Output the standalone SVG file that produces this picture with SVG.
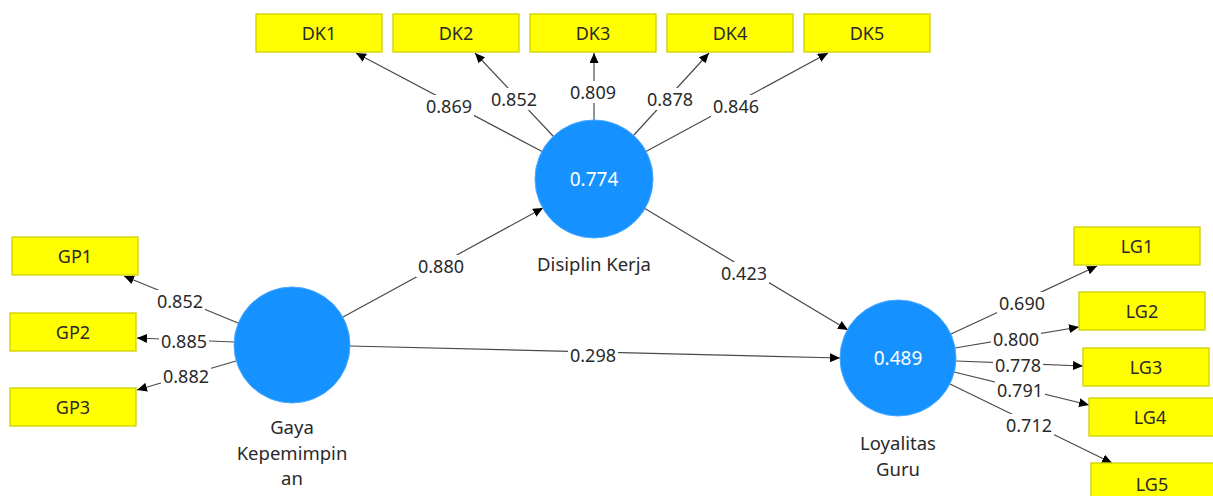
<svg xmlns="http://www.w3.org/2000/svg" width="1213" height="496" viewBox="0 0 1213 496">
<style>
.ind rect{fill:#FFFF00;stroke:#CFCF00;stroke-width:1.3}
.ind text,.name{font-family:"Noto Sans","Open Sans",sans-serif;fill:#2a2a2a;text-anchor:middle;dominant-baseline:central}
.ind text{font-size:18px}
.name{font-size:18.5px}
.lv circle{fill:#1592FF;stroke:#4aa8ff;stroke-width:1}
.lv text.val{font-family:"Noto Sans","Open Sans",sans-serif;font-size:19px;fill:#ffffff;text-anchor:middle;dominant-baseline:central}
.conn line{stroke:#4a4a4a;stroke-width:1.2;marker-end:url(#ah)}
.lbl rect{fill:#ffffff}
.lbl text{font-family:"Noto Sans","Open Sans",sans-serif;font-size:18px;fill:#2a2a2a;text-anchor:middle;dominant-baseline:central}
</style>
<defs>
<marker id="ah" markerUnits="userSpaceOnUse" markerWidth="11" markerHeight="9" refX="10" refY="4.5" orient="auto">
<path d="M0,0 L10,4.5 L0,9 z" fill="#000"/>
</marker>
</defs>
<rect width="1213" height="496" fill="#ffffff"/>

<g id="connectors" class="conn">
<line x1="343" y1="317" x2="543" y2="208"/>
<line x1="644" y1="208" x2="848" y2="330"/>
<line x1="350" y1="346" x2="840" y2="358"/>
<line x1="238" y1="323" x2="124" y2="276"/>
<line x1="234" y1="342" x2="137" y2="338"/>
<line x1="236" y1="361" x2="137" y2="390"/>
<line x1="951" y1="334" x2="1097" y2="266"/>
<line x1="955" y1="348" x2="1079" y2="327"/>
<line x1="956" y1="361" x2="1083" y2="366"/>
<line x1="954" y1="372" x2="1089" y2="405"/>
<line x1="950" y1="384" x2="1112" y2="463"/>
<line x1="543" y1="152" x2="356" y2="53"/>
<line x1="554" y1="137" x2="475" y2="53"/>
<line x1="594" y1="121" x2="594" y2="53"/>
<line x1="633" y1="136" x2="709" y2="53"/>
<line x1="645" y1="152" x2="828" y2="53"/>
</g>

<g id="labels" class="lbl">
<rect x="416" y="255" width="50" height="22"/><text x="441" y="266">0.880</text>
<rect x="719" y="262" width="50" height="22"/><text x="744" y="273">0.423</text>
<rect x="568" y="344" width="50" height="22"/><text x="593" y="355">0.298</text>
<rect x="155" y="290" width="50" height="22"/><text x="180" y="301">0.852</text>
<rect x="159" y="330" width="50" height="22"/><text x="184" y="341">0.885</text>
<rect x="161" y="365" width="50" height="22"/><text x="186" y="376">0.882</text>
<rect x="997" y="292" width="50" height="22"/><text x="1022" y="303">0.690</text>
<rect x="991" y="328" width="50" height="22"/><text x="1016" y="339">0.800</text>
<rect x="993" y="354" width="50" height="22"/><text x="1018" y="365">0.778</text>
<rect x="995" y="379" width="50" height="22"/><text x="1020" y="390">0.791</text>
<rect x="1004" y="414" width="50" height="22"/><text x="1029" y="425">0.712</text>
<rect x="424" y="95" width="50" height="22"/><text x="449" y="106">0.869</text>
<rect x="489" y="88" width="50" height="22"/><text x="514" y="99">0.852</text>
<rect x="568" y="81" width="50" height="22"/><text x="593" y="92">0.809</text>
<rect x="645" y="88" width="50" height="22"/><text x="670" y="99">0.878</text>
<rect x="711" y="95" width="50" height="22"/><text x="736" y="106">0.846</text>
</g>

<g id="GK" class="lv">
<circle cx="292" cy="345" r="58"/>
<text class="name" x="292" y="426">Gaya</text>
<text class="name" x="292" y="452">Kepemimpin</text>
<text class="name" x="292" y="477">an</text>
</g>
<g id="DK" class="lv">
<circle cx="594" cy="179" r="59"/>
<text class="val" x="594" y="179">0.774</text>
<text class="name" x="594" y="263">Disiplin Kerja</text>
</g>
<g id="LG" class="lv">
<circle cx="898" cy="358" r="58"/>
<text class="val" x="898" y="358">0.489</text>
<text class="name" x="898" y="442">Loyalitas</text>
<text class="name" x="898" y="468">Guru</text>
</g>

<g id="DK1" class="ind"><rect x="256" y="14" width="126" height="38"/><text x="319" y="33">DK1</text></g>
<g id="DK2" class="ind"><rect x="393" y="14" width="126" height="38"/><text x="456" y="33">DK2</text></g>
<g id="DK3" class="ind"><rect x="530" y="14" width="126" height="38"/><text x="593" y="33">DK3</text></g>
<g id="DK4" class="ind"><rect x="667" y="14" width="126" height="38"/><text x="730" y="33">DK4</text></g>
<g id="DK5" class="ind"><rect x="804" y="14" width="126" height="38"/><text x="867" y="33">DK5</text></g>

<g id="GP1" class="ind"><rect x="12" y="237" width="126" height="38"/><text x="75" y="256">GP1</text></g>
<g id="GP2" class="ind"><rect x="10" y="313" width="126" height="38"/><text x="73" y="332">GP2</text></g>
<g id="GP3" class="ind"><rect x="10" y="388" width="126" height="38"/><text x="73" y="407">GP3</text></g>

<g id="LG1" class="ind"><rect x="1074" y="227" width="126" height="38"/><text x="1137" y="246">LG1</text></g>
<g id="LG2" class="ind"><rect x="1079" y="292" width="126" height="38"/><text x="1142" y="311">LG2</text></g>
<g id="LG3" class="ind"><rect x="1083" y="348" width="126" height="38"/><text x="1146" y="367">LG3</text></g>
<g id="LG4" class="ind"><rect x="1089" y="398" width="126" height="38"/><text x="1150" y="417">LG4</text></g>
<g id="LG5" class="ind"><rect x="1091" y="463" width="126" height="38"/><text x="1152" y="484">LG5</text></g>
</svg>
